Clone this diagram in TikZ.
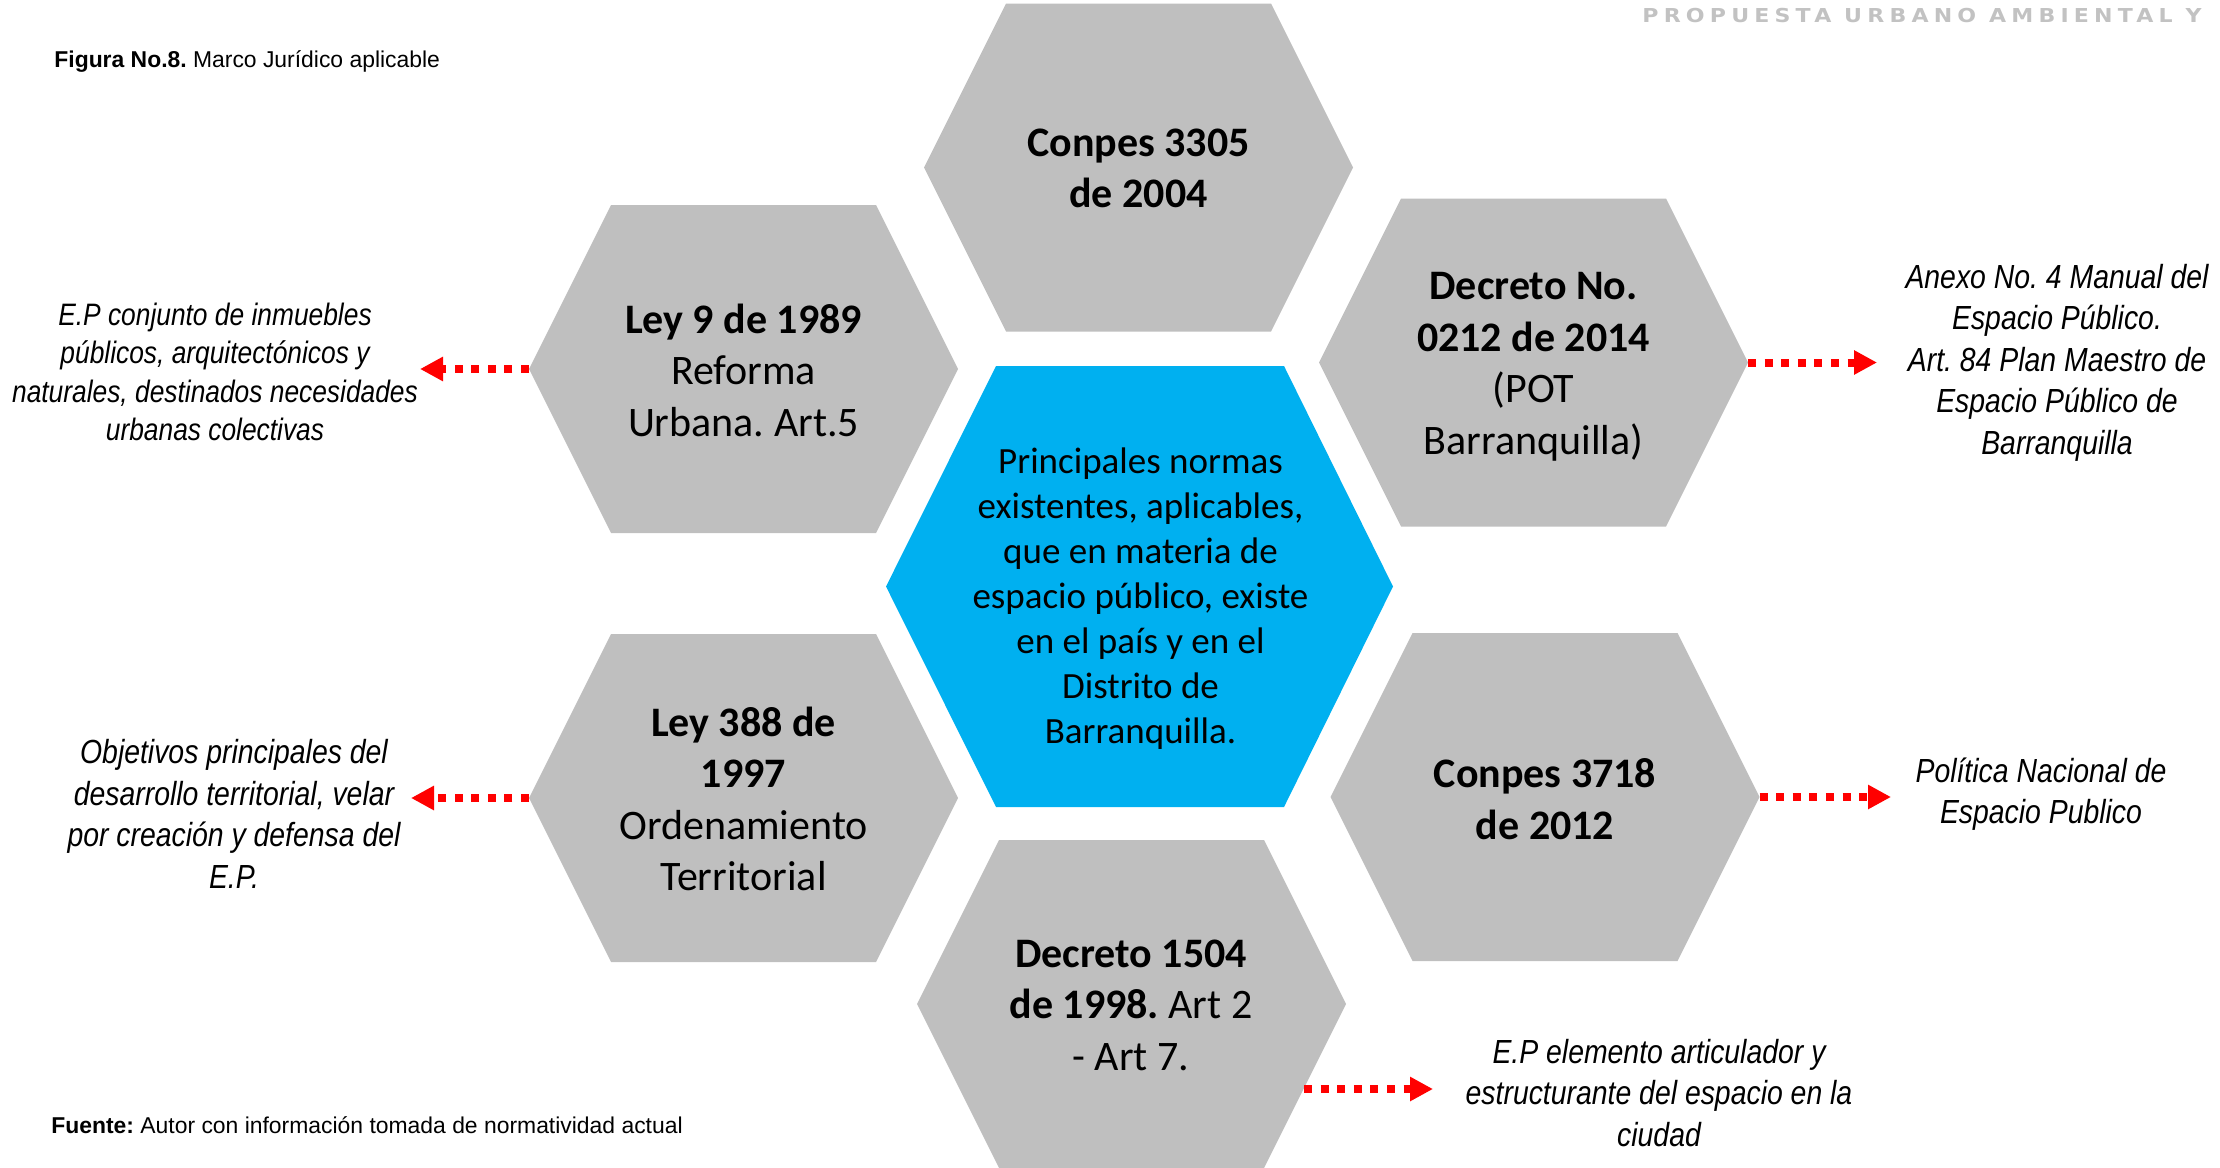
\documentclass[tikz,border=0pt]{standalone}
\usepackage{fontspec}
\setmainfont{Carlito}
\newfontfamily\notafont[FakeStretch=0.85]{Liberation Sans}
\newfontfamily\arialfont{Liberation Sans}
\newfontfamily\marcafont[FakeStretch=1.15,LetterSpace=27]{DejaVu Sans}
\usepackage{tikz}
\usetikzlibrary{arrows.meta}
\definecolor{grisHex}{HTML}{BFBFBF}
\definecolor{azulHex}{HTML}{00B0F0}
\definecolor{grisMarca}{HTML}{C2C2C2}
\frenchspacing

\begin{document}
\begin{tikzpicture}[x=0.5pt,y=-0.5pt,
  textohex/.style={align=center,inner sep=0pt,font=\fontsize{21}{25.75}\selectfont},
  textocentro/.style={align=center,inner sep=0pt,font=\fontsize{18.5}{22.5}\selectfont},
  nota/.style={align=center,inner sep=0pt,font=\notafont\itshape\fontsize{16.7}{20.75}\selectfont},
  pie/.style={anchor=west,inner sep=0pt,font=\arialfont\fontsize{11.45}{13}\selectfont},
  flecha/.style={draw=red,line width=4pt,dash pattern=on 4pt off 4.3pt,-{Triangle[length=11.5pt,width=11.5pt]}}]
  \useasboundingbox (0,0) rectangle (2220,1167);
  % hexagonos grises (nombre/cx/cy)
  \foreach \nom/\cx/\cy in {conpesA/1138.5/167.5,ley9/743.5/369,decretoA/1533.5/362.5,
                            ley388/743.5/798,conpesB/1545/797,decretoB/1131.5/1004}{
    \fill[grisHex] ({\cx-214.5},\cy) -- ({\cx-132.5},{\cy-164}) -- ({\cx+132.5},{\cy-164})
      -- ({\cx+214.5},\cy) -- ({\cx+132.5},{\cy+164}) -- ({\cx-132.5},{\cy+164}) -- cycle;
    \coordinate (\nom-o) at ({\cx-214.5},\cy);
    \coordinate (\nom-e) at ({\cx+214.5},\cy);
  }
  % hexagono central
  \fill[azulHex] (886,586.5) -- (996,366) -- (1284,366) -- (1393,586.5) -- (1284,807) -- (996,807) -- cycle;

  % textos de los hexagonos
  \node[textohex] (tConpesA) at (1138.5,168.5) {\bfseries Conpes 3305\\\bfseries de 2004};
  \node[textohex] (tLey9) at (743.5,370) {\textbf{Ley 9 de 1989}\\Reforma\\Urbana. Art.5};
  \node[textohex] (tDecretoA) at (1533.5,367) {\textbf{Decreto No.}\\\textbf{0212 de 2014}\\(POT\\Barranquilla)};
  \node[textohex] (tLey388) at (743.5,799) {\textbf{Ley 388 de}\\\textbf{1997}\\Ordenamiento\\Territorial};
  \node[textohex] (tConpesB) at (1545,799) {\bfseries Conpes 3718\\\bfseries de 2012};
  \node[textohex] (tDecretoB) at (1131,1005) {\textbf{Decreto 1504}\\\textbf{de 1998.} Art 2\\- Art 7.};
  \node[textocentro] (tCentro) at (1140.5,599) {Principales normas\\existentes, aplicables,\\que en materia de\\espacio público, existe\\en el país y en el\\Distrito de\\Barranquilla.};

  % notas laterales
  \node[nota,font=\notafont\itshape\fontsize{15.5}{19.25}\selectfont] (nota1) at (215,372)
    {E.P conjunto de inmuebles\\públicos, arquitectónicos y\\naturales, destinados necesidades\\urbanas colectivas};
  \node[nota] (nota2) at (2057,362.5) {Anexo No. 4 Manual del\\Espacio Público.\\Art. 84 Plan Maestro de\\Espacio Público de\\Barranquilla};
  \node[nota] (nota3) at (234,814) {Objetivos principales del\\desarrollo territorial, velar\\por creación y defensa del\\E.P.};
  \node[nota] (nota4) at (2041,794) {Política Nacional de\\Espacio Publico};
  \node[nota] (nota5) at (1659,1093) {E.P elemento articulador y\\estructurante del espacio en la\\ciudad};

  % flechas punteadas
  \coordinate (f1) at (420,369);
  \coordinate (f2) at (1877,362.5);
  \coordinate (f3) at (411,798);
  \coordinate (f4) at (1891,797);
  \coordinate (f5a) at (1304,1089);
  \coordinate (f5) at (1433,1089);
  \draw[flecha] (ley9-o) -- (f1);
  \draw[flecha] (decretoA-e) -- (f2);
  \draw[flecha] (ley388-o) -- (f3);
  \draw[flecha] (conpesB-e) -- (f4);
  \draw[flecha] (f5a) -- (f5);

  % titulo, fuente y encabezado
  \node[pie] (titulo) at (54,61) {\textbf{Figura No.8.} Marco Jurídico aplicable};
  \node[pie] (fuente) at (51,1125) {\textbf{Fuente:} Autor con información tomada de normatividad actual};
  \node[anchor=west,inner sep=0pt,text=grisMarca,font=\marcafont\bfseries\fontsize{9.6}{11}\selectfont] (marca) at (1642,16) {PROPUESTA URBANO AMBIENTAL Y};
\end{tikzpicture}
\end{document}
